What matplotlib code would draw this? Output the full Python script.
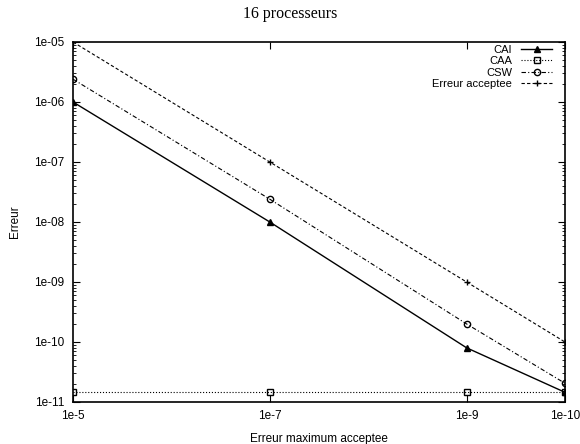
import matplotlib
matplotlib.use("Agg")
import matplotlib.pyplot as plt
from matplotlib.ticker import FixedLocator, NullLocator, LogLocator, NullFormatter

x_vals = [1e-5, 1e-7, 1e-9, 1e-10]
x_labels = ["1e-5", "1e-7", "1e-9", "1e-10"]
cai = [1e-6, 1e-8, 8e-11, 1.45e-11]
caa = [1.45e-11, 1.45e-11, 1.45e-11, 1.45e-11]
csw = [2.4e-6, 2.4e-8, 2.0e-10, 2.05e-11]
erreur = [1e-5, 1e-7, 1e-9, 1e-10]
y_ticks = [1e-11, 1e-10, 1e-9, 1e-8, 1e-7, 1e-6, 1e-5]
y_labels = ["1e-11", "1e-10", "1e-09", "1e-08", "1e-07", "1e-06", "1e-05"]

plt.rcParams['font.family'] = ['Liberation Sans', 'DejaVu Sans']
fig = plt.figure(figsize=(5.8, 4.44), dpi=100)
ax = fig.add_axes([73/580, 1-402/444, (565-73)/580, (402-42)/444])

ax.set_xscale('log')
ax.set_yscale('log')
ax.plot(x_vals, cai, color='black', lw=1, ls='-', marker='^', ms=4, mfc='black', label='CAI')
ax.plot(x_vals, caa, color='black', lw=0.8, ls=':', marker='s', ms=4.5, mfc='none', label='CAA')
ax.plot(x_vals, csw, color='black', lw=0.8, ls='-.', dashes=(4, 2, 1, 2), marker='o', ms=4.5, mfc='none', label='CSW')
ax.plot(x_vals, erreur, color='black', lw=0.8, ls='--', dashes=(3, 2), marker='+', ms=5, label='Erreur acceptee')

ax.set_xlim(1e-5, 1e-10)
ax.set_ylim(1e-11, 1e-5)
ax.xaxis.set_major_locator(FixedLocator(x_vals))
ax.set_xticklabels(x_labels)
ax.xaxis.set_minor_locator(NullLocator())
ax.yaxis.set_major_locator(FixedLocator(y_ticks))
ax.set_yticklabels(y_labels)
ax.yaxis.set_minor_locator(LogLocator(base=10, subs=range(2, 10), numticks=20))
ax.yaxis.set_minor_formatter(NullFormatter())
ax.tick_params(which='both', direction='in', top=True, right=True, labelsize=8.5, pad=6)
ax.tick_params(which='major', length=5, width=0.8)
ax.tick_params(which='minor', length=2.5, width=0.6)
for s in ax.spines.values():
    s.set_linewidth(1.2)

ax.set_xlabel('Erreur maximum acceptee', fontsize=8.5, labelpad=8)
ax.set_ylabel('Erreur', fontsize=8.5)
ax.yaxis.set_label_coords(-0.106, 0.5)
fig.text(0.5, 1-14/444, '16 processeurs', ha='center', va='center', fontsize=11.5,
         family=['Liberation Serif', 'DejaVu Serif'])

ax.legend(loc='upper right', bbox_to_anchor=(0.974, 0.992), frameon=False, markerfirst=False,
          fontsize=8, handlelength=2.8, labelspacing=0.12, borderaxespad=0.0, borderpad=0.0,
          handletextpad=0.8)

fig.savefig('out.png', dpi=100)
